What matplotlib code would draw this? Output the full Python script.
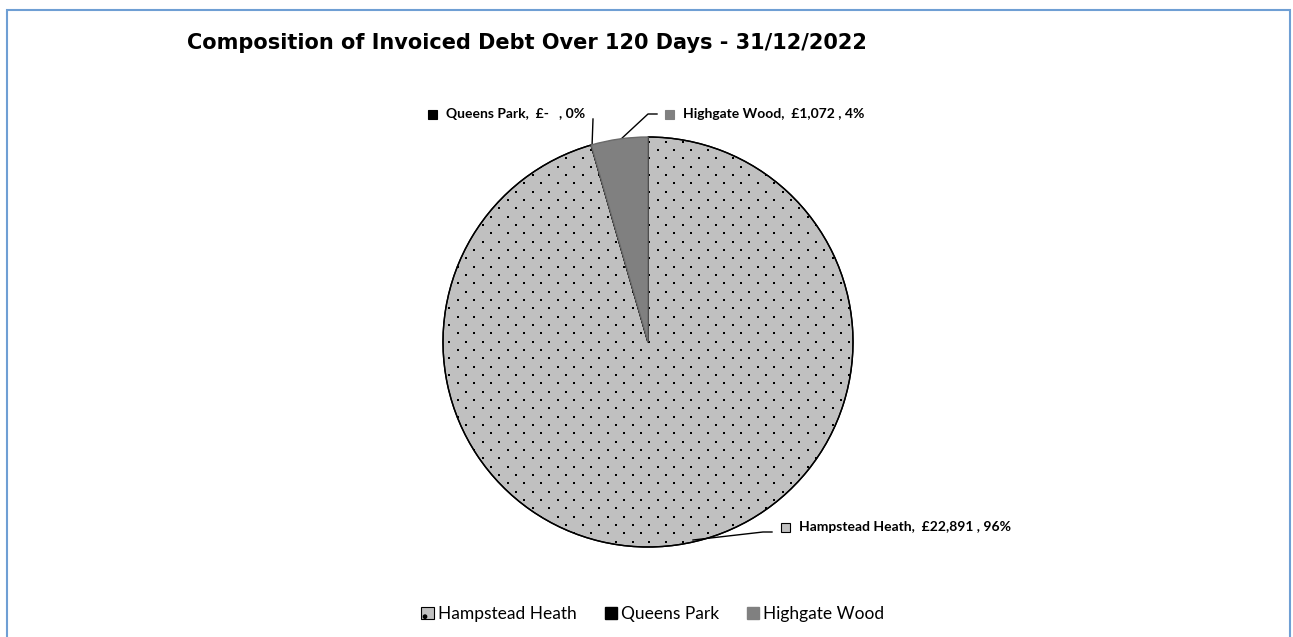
import numpy as np
import matplotlib.pyplot as plt
from matplotlib.patches import Rectangle

# data
sites = ['Hampstead Heath', 'Queens Park', 'Highgate Wood']
amounts = [22891, 0, 1072]
amount_text = ['£22,891 ', '£-   ', '£1,072 ']
colors = ['#c0c0c0', '#000000', '#808080']

title = 'Composition of Invoiced Debt Over 120 Days - 31/12/2022'

W, H = 1293, 637
fig = plt.figure(figsize=(W / 100, H / 100), dpi=100)

# outer chart border (light blue, runs off the bottom)
fig.patches.append(Rectangle((7 / W, -0.05), 1283 / W, (H - 10) / H + 0.05,
                             transform=fig.transFigure, fill=False,
                             edgecolor='#6f9fd4', linewidth=1.5))

cx, cy, r = 648, 342, 205

def px(x, y):
    # pixel position -> pie data coords
    return (x - cx) / r, (cy - y) / r

ax = fig.add_axes([(cx - r) / W, (H - cy - r) / H, 2 * r / W, 2 * r / H])
wedges, _ = ax.pie(amounts, colors=colors, startangle=90, counterclock=False,
                   radius=1, wedgeprops=dict(edgecolor='black', linewidth=1.0))
wedges[2].set_edgecolor('#6a6a6a')

# dotted fill for Hampstead Heath (staggered dot texture, like Excel's 10% pattern)
step = 25 / 3
dx, dy = [], []
for j, y in enumerate(np.arange(300 - 20 * step, 560, step)):
    x0 = 674.3 - (j % 2) * step
    for x in np.arange(x0 - 30 * 2 * step, 870, 2 * step):
        dx.append((x - cx) / r)
        dy.append((cy - y) / r)
dots = ax.scatter(dx, dy, s=3.6, marker='s', color='black', linewidths=0,
                  zorder=2)
dots.set_clip_path(wedges[0])
# redraw the outline above the dots
outline, _ = ax.pie(amounts, colors=['none'] * 3, startangle=90,
                    counterclock=False, radius=1,
                    wedgeprops=dict(edgecolor='black', linewidth=1.0, zorder=3))
outline[2].set_visible(False)
wedges[2].set_zorder(4)

ax.set_xlim(-1, 1)
ax.set_ylim(-1, 1)
ax.set_aspect('equal')
ax.axis('off')

fig.text(187 / W, 1 - 43 / H, title, fontsize=15, fontweight='bold',
         family='DejaVu Sans', va='center', ha='left')

total = sum(amounts)
pct = [round(100 * a / total) for a in amounts]

# data labels: (leader line points in px, marker x, text y)
label_pos = [
    ([(693, 540), (763, 532), (772, 532)], 785.5, 527),
    ([(592, 147), (593, 119)], 432.5, 114),
    ([(620, 140), (648, 114), (657, 114)], 669.5, 114),
]
for i, (pts, mx, ty) in enumerate(label_pos):
    xs, ys = zip(*[px(x, y) for x, y in pts])
    ax.plot(xs, ys, color='black', linewidth=1.0, clip_on=False)
    sq = Rectangle(px(mx - 4.5, ty + 4.5), 9 / r, 9 / r, facecolor=colors[i],
                   edgecolor='black' if i == 0 else colors[i], linewidth=0.8,
                   clip_on=False)
    ax.add_patch(sq)
    tx, tyd = px(mx + 13.5, ty)
    ax.text(tx, tyd, f'{sites[i]},  {amount_text[i]}, {pct[i]}%', fontsize=10,
            fontweight='bold', family='Lato', va='center', ha='left',
            clip_on=False)

handles = [Rectangle((0, 0), 1, 1, facecolor=colors[0], edgecolor='black',
                     linewidth=0.8, hatch='.'),
           Rectangle((0, 0), 1, 1, facecolor=colors[1], edgecolor=colors[1]),
           Rectangle((0, 0), 1, 1, facecolor=colors[2], edgecolor=colors[2])]
fig.legend(handles, sites, loc='center', bbox_to_anchor=(653 / W, 1 - 614 / H),
           ncol=3, frameon=False, prop=dict(family='Lato', size=12.5),
           handlelength=0.7, handleheight=0.7, handletextpad=0.25,
           columnspacing=1.6)

fig.savefig('out.png', dpi=100)
